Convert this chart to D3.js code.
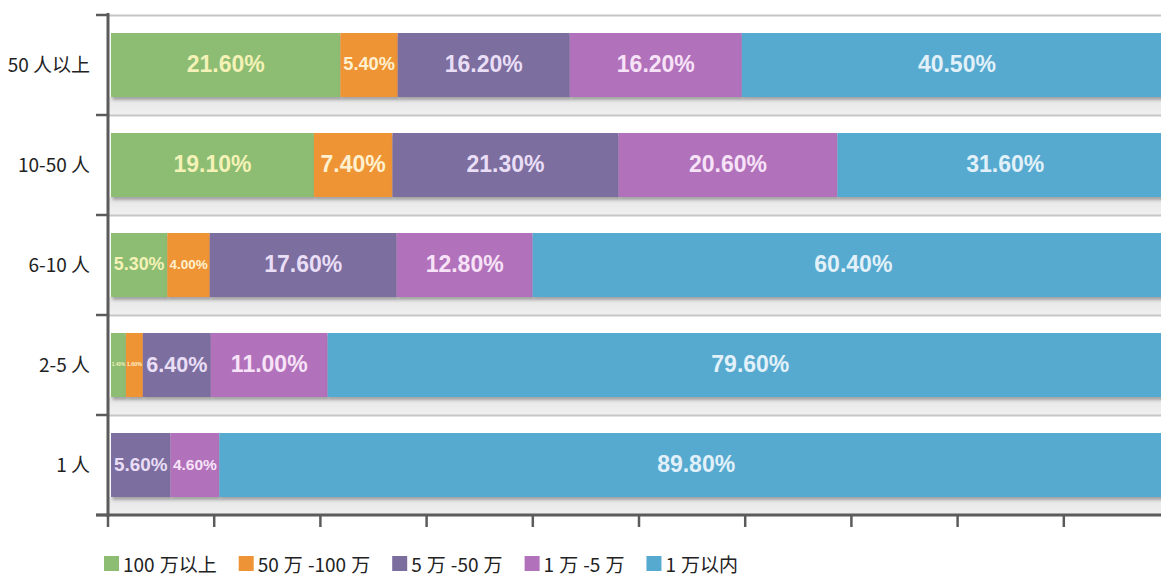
<!DOCTYPE html>
<html>
<head>
<meta charset="utf-8">
<script src="https://cdn.jsdelivr.net/npm/d3@7"></script>
<style>
  html, body { margin: 0; padding: 0; background: #ffffff; }
  svg { display: block; }
</style>
</head>
<body>
<svg id="chart" width="1161" height="575"></svg>
<script>
// Team size groups (top to bottom)
const categories = ["50 人以上", "10-50 人", "6-10 人", "2-5 人", "1 人"];
// Revenue brackets, stacked left to right
const seriesNames = ["100 万以上", "50 万 -100 万", "5 万 -50 万", "1 万 -5 万", "1 万以内"];
// Share (%) of each bracket per group
const s100Plus   = [21.6, 19.1, 5.3, 1.4, 0];
const s50to100   = [5.4, 7.4, 4.0, 1.6, 0];
const s5to50     = [16.2, 21.3, 17.6, 6.4, 5.6];
const s1to5      = [16.2, 20.6, 12.8, 11.0, 4.6];
const sUnder1    = [40.5, 31.6, 60.4, 79.6, 89.8];
const xTicks = [0, 10, 20, 30, 40, 50, 60, 70, 80, 90, 100];

const seriesValues = [s100Plus, s50to100, s5to50, s1to5, sUnder1];
const colors = ["#8cbd73", "#ef9436", "#7b6e9f", "#b271bb", "#56aad0"];
const labelColors = ["#f4f2b6", "#fff1cf", "#e9def6", "#f7e3f7", "#e2f1f9"];

const svg = d3.select("#chart");
const W = 1161;

const x = d3.scaleLinear().domain([0, 100]).range([108, 1170]);
const y = d3.scaleBand().domain(categories).range([15, 515]).padding(0);
const bw = y.bandwidth();
const barTop = bw * 0.18, barH = bw * 0.64;
const barOffset = 3;

// defs: shadow and floor gradient
const defs = svg.append("defs");
const f = defs.append("filter").attr("id", "shadow")
  .attr("x", "-5%").attr("y", "-20%").attr("width", "110%").attr("height", "150%");
f.append("feDropShadow").attr("dx", 1.5).attr("dy", 3).attr("stdDeviation", 1.6)
  .attr("flood-color", "#555").attr("flood-opacity", 0.45);
const g = defs.append("linearGradient").attr("id", "floor")
  .attr("x1", 0).attr("y1", 0).attr("x2", 0).attr("y2", 1);
g.append("stop").attr("offset", "0%").attr("stop-color", "#e6e6e6");
g.append("stop").attr("offset", "100%").attr("stop-color", "#f0f0f0");

// band floors and grid lines
const bands = svg.append("g");
categories.forEach(c => {
  const y0 = y(c);
  bands.append("rect")
    .attr("x", x(0)).attr("y", y0 + barTop + barH)
    .attr("width", W - x(0)).attr("height", bw - barTop - barH)
    .attr("fill", "url(#floor)");
  bands.append("line")
    .attr("x1", x(0)).attr("x2", W).attr("y1", y0 + 0.5).attr("y2", y0 + 0.5)
    .attr("stroke", "#c6c6c6").attr("stroke-width", 2);
});

// stacked data
const rows = categories.map((c, i) => {
  const row = { cat: c };
  seriesNames.forEach((s, j) => { row[s] = seriesValues[j][i]; });
  return row;
});
const stacked = d3.stack().keys(seriesNames)(rows);

const barsG = svg.append("g");
stacked.forEach((layer, j) => {
  const lg = barsG.append("g").attr("filter", "url(#shadow)");
  layer.forEach(d => {
    const v = d[1] - d[0];
    if (v <= 0) return;
    lg.append("rect")
      .attr("x", x(d[0]) + barOffset)
      .attr("y", y(d.data.cat) + barTop)
      .attr("width", x(d[1]) - x(d[0]))
      .attr("height", barH)
      .attr("fill", colors[j]);
  });
});

// value labels, shrunk to fit narrow segments
const labelsG = svg.append("g");
const baseSize = 23;
stacked.forEach((layer, j) => {
  layer.forEach(d => {
    const v = d[1] - d[0];
    if (v <= 0) return;
    const segW = x(d[1]) - x(d[0]);
    const cx = (x(d[0]) + x(d[1])) / 2 + barOffset;
    const cy = y(d.data.cat) + barTop + barH / 2 - 1;
    const t = labelsG.append("text")
      .attr("x", cx).attr("y", cy)
      .attr("text-anchor", "middle").attr("dominant-baseline", "central")
      .attr("font-family", "'Liberation Sans', Arial, sans-serif")
      .attr("font-weight", "bold")
      .attr("font-size", baseSize)
      .attr("fill", labelColors[j])
      .text(v.toFixed(2) + "%");
    const tw = t.node().getComputedTextLength();
    const maxW = segW * 0.9;
    if (tw > maxW) t.attr("font-size", baseSize * maxW / tw);
  });
});

// left axis
const axisColor = "#5b5b5b";
svg.append("line")
  .attr("x1", x(0)).attr("x2", x(0)).attr("y1", 13).attr("y2", 517)
  .attr("stroke", axisColor).attr("stroke-width", 3);
const yEdges = categories.map(c => y(c)).concat([y(categories[categories.length - 1]) + bw]);
svg.append("g").selectAll("line").data(yEdges).join("line")
  .attr("x1", 96).attr("x2", x(0)).attr("y1", d => d).attr("y2", d => d)
  .attr("stroke", axisColor).attr("stroke-width", 2.5);

// category labels
svg.append("g").selectAll("text").data(categories).join("text")
  .attr("x", 90).attr("y", c => y(c) + barTop + barH / 2 - 2)
  .attr("text-anchor", "end").attr("dominant-baseline", "central")
  .attr("font-family", "'Noto Sans CJK SC', 'Noto Sans', sans-serif")
  .attr("font-size", 19).attr("fill", "#222")
  .text(c => c);

// bottom axis
svg.append("line")
  .attr("x1", 96).attr("x2", W).attr("y1", 515).attr("y2", 515)
  .attr("stroke", axisColor).attr("stroke-width", 3);
svg.append("g").selectAll("line").data(xTicks).join("line")
  .attr("x1", d => x(d)).attr("x2", d => x(d)).attr("y1", 515).attr("y2", 527)
  .attr("stroke", axisColor).attr("stroke-width", 2.5);

// legend
const legend = svg.append("g");
let lx = 104;
seriesNames.forEach((s, j) => {
  legend.append("rect")
    .attr("x", lx).attr("y", 556).attr("width", 15).attr("height", 15)
    .attr("fill", colors[j]);
  const t = legend.append("text")
    .attr("x", lx + 19).attr("y", 563)
    .attr("dominant-baseline", "central")
    .attr("font-family", "'Noto Sans CJK SC', 'Noto Sans', sans-serif")
    .attr("font-size", 19).attr("word-spacing", 0.8).attr("fill", "#222")
    .text(s);
  const w = t.node().getBBox().width;
  lx += 19 + w + 22;
});
</script>
</body>
</html>
